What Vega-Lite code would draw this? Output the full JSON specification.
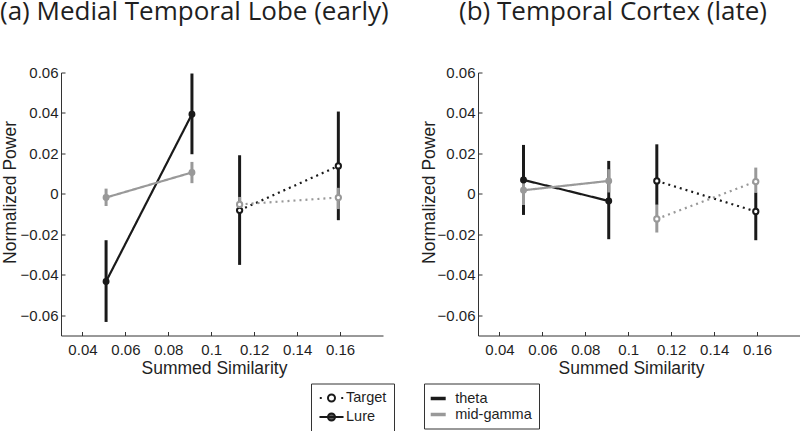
{
  "$schema": "https://vega.github.io/schema/vega-lite/v6.json",
  "padding": {"left": 0, "top": -1.5, "right": 0, "bottom": 0},
  "background": "white",
  "data": {"values": [
    {"panel": "a", "band": "theta", "cond": "Lure", "x": 0.0510, "y": -0.0433, "lo": -0.0633, "hi": -0.0229},
    {"panel": "a", "band": "theta", "cond": "Lure", "x": 0.0910, "y": 0.0394, "lo": 0.0196, "hi": 0.0595},
    {"panel": "a", "band": "theta", "cond": "Target", "x": 0.1132, "y": -0.0081, "lo": -0.0351, "hi": 0.0191},
    {"panel": "a", "band": "theta", "cond": "Target", "x": 0.1592, "y": 0.0138, "lo": -0.0130, "hi": 0.0407},
    {"panel": "a", "band": "mid-gamma", "cond": "Lure", "x": 0.0510, "y": -0.0018, "lo": -0.0060, "hi": 0.0026},
    {"panel": "a", "band": "mid-gamma", "cond": "Lure", "x": 0.0910, "y": 0.0106, "lo": 0.0053, "hi": 0.0158},
    {"panel": "a", "band": "mid-gamma", "cond": "Target", "x": 0.1132, "y": -0.0052, "lo": -0.0085, "hi": -0.0015},
    {"panel": "a", "band": "mid-gamma", "cond": "Target", "x": 0.1592, "y": -0.0018, "lo": -0.0075, "hi": 0.0030},
    {"panel": "b", "band": "theta", "cond": "Lure", "x": 0.0512, "y": 0.0069, "lo": -0.0104, "hi": 0.0242},
    {"panel": "b", "band": "theta", "cond": "Lure", "x": 0.0909, "y": -0.0035, "lo": -0.0224, "hi": 0.0163},
    {"panel": "b", "band": "theta", "cond": "Target", "x": 0.1133, "y": 0.0064, "lo": -0.0054, "hi": 0.0245},
    {"panel": "b", "band": "theta", "cond": "Target", "x": 0.1594, "y": -0.0087, "lo": -0.0229, "hi": 0.0007},
    {"panel": "b", "band": "mid-gamma", "cond": "Lure", "x": 0.0512, "y": 0.0018, "lo": -0.0055, "hi": 0.0064},
    {"panel": "b", "band": "mid-gamma", "cond": "Lure", "x": 0.0909, "y": 0.0064, "lo": 0.0007, "hi": 0.0122},
    {"panel": "b", "band": "mid-gamma", "cond": "Target", "x": 0.1133, "y": -0.0124, "lo": -0.0191, "hi": -0.0054},
    {"panel": "b", "band": "mid-gamma", "cond": "Target", "x": 0.1594, "y": 0.0061, "lo": 0.0007, "hi": 0.0130}
  ]},
  "bounds": "flush",
  "spacing": 95,
  "resolve": {"scale": {"color": "shared", "strokeDash": "shared", "opacity": "shared"}},
  "hconcat": [
    {
      "width": 322, "height": 263,
      "transform": [{"filter": "datum.panel === 'a'"}],
      "title": {"text": "(a) Medial Temporal Lobe (early)", "anchor": "start", "frame": "group", "dx": -61, "offset": 40.5},
      "layer": [
        {
          "mark": {"type": "rule", "strokeWidth": 3},
          "encoding": {
            "x": {"field": "x", "type": "quantitative", "scale": {"domain": [0.03, 0.18], "nice": false, "zero": false},
                  "axis": {"values": [0.04, 0.06, 0.08, 0.1, 0.12, 0.14, 0.16], "format": ".2~f", "title": "Summed Similarity", "titleX": 153, "titleY": 38, "titleBaseline": "alphabetic"}},
            "y": {"field": "lo", "type": "quantitative", "scale": {"domain": [-0.07, 0.06], "nice": false, "zero": false},
                  "axis": {"values": [-0.06, -0.04, -0.02, 0, 0.02, 0.04, 0.06], "format": ".2~f", "title": "Normalized Power", "titleX": -46, "titleY": 119.5, "titleBaseline": "alphabetic"}},
            "y2": {"field": "hi"},
            "color": {"field": "band", "type": "nominal", "scale": {"domain": ["theta", "mid-gamma"], "range": ["#1a1a1a", "#999999"]},
                      "legend": {"orient": "none", "legendX": 363, "legendY": 311, "title": null, "padding": 7, "strokeColor": "#333333", "fillColor": "white", "cornerRadius": 0,
                                 "symbolType": "M-1.25,0H1.25", "symbolSize": 144, "symbolStrokeWidth": 3.5, "symbolOpacity": 1, "symbolOffset": -0.8, "labelOffset": 9, "rowPadding": 1,
                                 "labelExpr": "datum.label === 'mid-gamma' ? 'mid-gamma    ' : datum.label",
                                 "encoding": {"symbols": {"opacity": {"value": 1}}}}}
          }
        },
        {
          "mark": {"type": "line", "strokeWidth": 2.2},
          "encoding": {
            "x": {"field": "x", "type": "quantitative"},
            "y": {"field": "y", "type": "quantitative"},
            "color": {"field": "band", "type": "nominal"},
            "detail": {"field": "cond"},
            "strokeDash": {"field": "cond", "type": "nominal", "scale": {"domain": ["Lure", "Target"], "range": [[1, 0], [2, 4]]}, "legend": null}
          }
        },
        {
          "transform": [{"filter": "datum.cond === 'Lure'"}],
          "mark": {"type": "point", "shape": "circle", "filled": true, "size": 48},
          "encoding": {
            "x": {"field": "x", "type": "quantitative"},
            "y": {"field": "y", "type": "quantitative"},
            "color": {"field": "band", "type": "nominal"},
            "opacity": {"field": "cond", "type": "nominal", "scale": {"domain": ["Target", "Lure"], "range": [1, 1]},
                      "legend": {"orient": "none", "legendX": 250, "legendY": 311, "title": null, "padding": 7, "strokeColor": "#333333", "fillColor": "white", "cornerRadius": 0,
                                 "symbolSize": 169, "symbolStrokeWidth": 2, "symbolOffset": 6, "labelOffset": 7, "rowPadding": 2,
                                 "symbolType": {"expr": "datum.value === 'Target' ? 'M-1.8,0H-1.5M1.5,0H1.8M-0.54,0A0.54,0.54,0,1,0,0.54,0A0.54,0.54,0,1,0,-0.54,0Z' : 'M-1.85,0H1.85M-0.54,0A0.54,0.54,0,1,0,0.54,0A0.54,0.54,0,1,0,-0.54,0Z'"},
                                 "encoding": {"symbols": {
                                   "shape": {"value": {"expr": "datum.value === 'Target' ? 'M-1.8,0H-1.5M1.5,0H1.8M-0.54,0A0.54,0.54,0,1,0,0.54,0A0.54,0.54,0,1,0,-0.54,0Z' : 'M-1.85,0H1.85M-0.54,0A0.54,0.54,0,1,0,0.54,0A0.54,0.54,0,1,0,-0.54,0Z'"}},
                                   "fill": {"value": {"expr": "datum.value === 'Target' ? 'white' : '#1a1a1a'"}},
                                   "stroke": {"value": "#1a1a1a"},
                                   "strokeWidth": {"value": 2},
                                   "opacity": {"value": 1}}}}}
          }
        },
        {
          "transform": [{"filter": "datum.cond === 'Target'"}],
          "mark": {"type": "point", "shape": "circle", "filled": false, "fill": "white", "fillOpacity": 1, "strokeWidth": 2, "size": 28},
          "encoding": {
            "x": {"field": "x", "type": "quantitative"},
            "y": {"field": "y", "type": "quantitative"},
            "color": {"field": "band", "type": "nominal"},
            "opacity": {"field": "cond", "type": "nominal"}
          }
        }
      ]
    },
    {
      "width": 322, "height": 263,
      "transform": [{"filter": "datum.panel === 'b'"}],
      "title": {"text": "(b) Temporal Cortex (late)", "anchor": "start", "frame": "group", "dx": -19, "offset": 40.5},
      "layer": [
        {
          "mark": {"type": "rule", "strokeWidth": 3},
          "encoding": {
            "x": {"field": "x", "type": "quantitative", "scale": {"domain": [0.03, 0.18], "nice": false, "zero": false},
                  "axis": {"values": [0.04, 0.06, 0.08, 0.1, 0.12, 0.14, 0.16], "format": ".2~f", "title": "Summed Similarity", "titleX": 153, "titleY": 38, "titleBaseline": "alphabetic"}},
            "y": {"field": "lo", "type": "quantitative", "scale": {"domain": [-0.07, 0.06], "nice": false, "zero": false},
                  "axis": {"values": [-0.06, -0.04, -0.02, 0, 0.02, 0.04, 0.06], "format": ".2~f", "title": "Normalized Power", "titleX": -44, "titleY": 119.5, "titleBaseline": "alphabetic"}},
            "y2": {"field": "hi"},
            "color": {"field": "band", "type": "nominal"}
          }
        },
        {
          "mark": {"type": "line", "strokeWidth": 2.2},
          "encoding": {
            "x": {"field": "x", "type": "quantitative"},
            "y": {"field": "y", "type": "quantitative"},
            "color": {"field": "band", "type": "nominal"},
            "detail": {"field": "cond"},
            "strokeDash": {"field": "cond", "type": "nominal", "legend": null}
          }
        },
        {
          "transform": [{"filter": "datum.cond === 'Lure'"}],
          "mark": {"type": "point", "shape": "circle", "filled": true, "size": 48},
          "encoding": {
            "x": {"field": "x", "type": "quantitative"},
            "y": {"field": "y", "type": "quantitative"},
            "color": {"field": "band", "type": "nominal"},
            "opacity": {"field": "cond", "type": "nominal"}
          }
        },
        {
          "transform": [{"filter": "datum.cond === 'Target'"}],
          "mark": {"type": "point", "shape": "circle", "filled": false, "fill": "white", "fillOpacity": 1, "strokeWidth": 2, "size": 28},
          "encoding": {
            "x": {"field": "x", "type": "quantitative"},
            "y": {"field": "y", "type": "quantitative"},
            "color": {"field": "band", "type": "nominal"},
            "opacity": {"field": "cond", "type": "nominal"}
          }
        }
      ]
    }
  ],
  "config": {
    "view": {"stroke": null},
    "title": {"font": "Open Sans", "fontSize": 26, "fontWeight": "normal", "color": "#1f1f1f", "baseline": "alphabetic"},
    "axis": {"grid": false, "domainColor": "#333333", "tickColor": "#333333", "tickSize": -4, "labelFont": "Liberation Sans", "labelFontSize": 15, "labelColor": "#1f1f1f", "titleFont": "Liberation Sans", "titleFontSize": 17.5, "titleFontWeight": "normal", "titleColor": "#1f1f1f", "labelFlush": false, "labelOverlap": false},
    "axisX": {"labelPadding": 11},
    "axisY": {"labelPadding": 7},
    "legend": {"labelFont": "Liberation Sans", "labelFontSize": 14.5, "labelColor": "#1f1f1f"}
  }
}
